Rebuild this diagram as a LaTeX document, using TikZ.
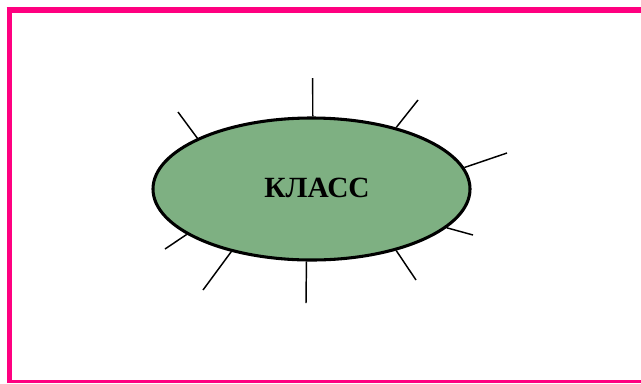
\documentclass[tikz,border=0pt]{standalone}
\usepackage{fontspec}
\setmainfont{Liberation Serif}
\usetikzlibrary{shapes.geometric}
\definecolor{framepink}{RGB}{255,0,128}
\definecolor{classgreen}{RGB}{126,176,130}
\tikzset{every picture/.style={line width=0.75pt}}
\tikzset{
  classbox/.style={ellipse, draw, line width=2.3pt, fill=classgreen, inner sep=0pt, minimum width=237.75pt, minimum height=106.5pt},
  stub/.style={line width=1.1pt},
}

\begin{document}
\begin{tikzpicture}[x=0.75pt,y=0.75pt,yscale=-1,xscale=1]
\path[use as bounding box] (0,0) rectangle (641,383);

%Straight Lines: frame
\draw [color=framepink, line width=4.5pt]  (6.5,10) -- (641,10) ;
\draw [color=framepink, line width=3.75pt]  (9.5,7) -- (9.5,383) ;
\draw [color=framepink, line width=1.6pt]  (9.5,381.5) -- (641,381.5) ;

%Shape: Ellipse
\node [classbox] (klass) at (311.5,189) {};

%Coordinates: outer ends of the stubs
\coordinate (s1) at (312.7,78);
\coordinate (s2) at (418,100);
\coordinate (s3) at (507,153);
\coordinate (s4) at (473,235);
\coordinate (s5) at (416,280);
\coordinate (s6) at (306,303);
\coordinate (s7) at (203,290);
\coordinate (s8) at (165,249);
\coordinate (s9) at (178,112);

%Straight Lines
\draw [stub]  (klass.89) -- (s1) ;
\draw [stub]  (klass.36) -- (s2) ;
\draw [stub]  (klass.8) -- (s3) ;
\draw [stub]  (klass.-16) -- (s4) ;
\draw [stub]  (klass.-36) -- (s5) ;
\draw [stub]  (klass.-94) -- (s6) ;
\draw [stub]  (klass.218) -- (s7) ;
\draw [stub]  (klass.200) -- (s8) ;
\draw [stub]  (klass.156) -- (s9) ;

% Text Node
\node [inner sep=0.75pt, font=\fontsize{22}{25}\selectfont\bfseries] (title) at (317,188) {КЛАСС};

\end{tikzpicture}
\end{document}
